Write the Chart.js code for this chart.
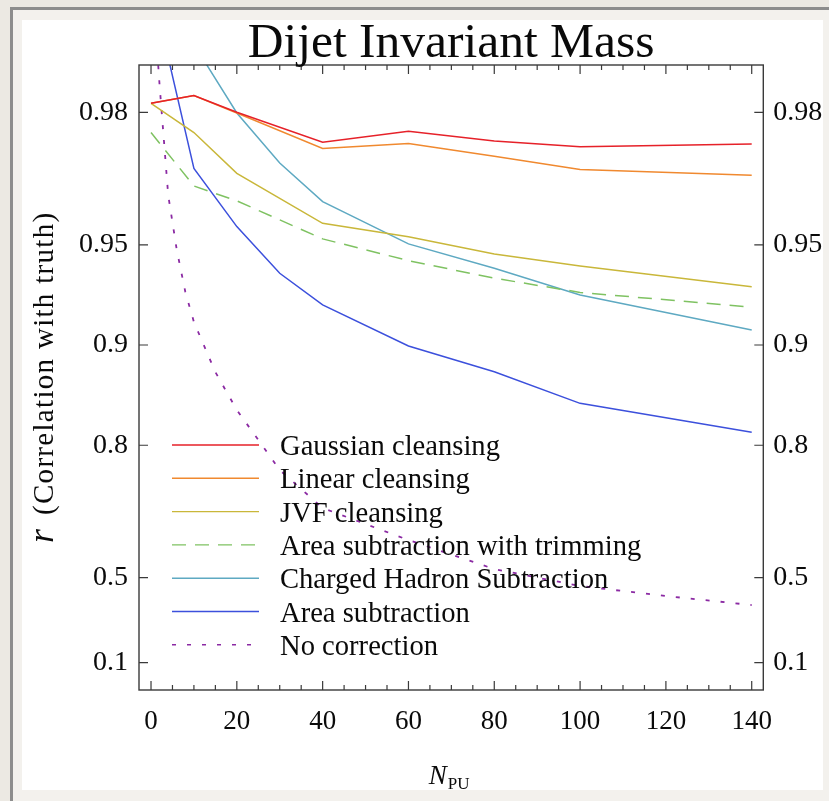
<!DOCTYPE html>
<html><head><meta charset="utf-8">
<script src="https://cdn.jsdelivr.net/npm/chart.js@4.4.0/dist/chart.umd.min.js"></script>
<style>
html,body{margin:0;padding:0;background:#ece9e3;width:829px;height:801px;overflow:hidden;position:relative}
#frame{position:absolute;left:10px;top:7px;width:900px;height:900px;border:3px solid #8d8d8d;background:#f3f1ed;box-sizing:border-box}
#card{position:absolute;left:22px;top:20px;width:801px;height:770px;background:#fff}
canvas{position:absolute;left:0;top:0}
</style></head><body>
<div id="frame"></div><div id="card"></div>
<canvas id="c" width="829" height="801"></canvas>
<script>
// ---- text ----
const chartTitle = 'Dijet Invariant Mass';
const xLabelMain = 'N', xLabelSub = 'PU';
const yLabelVar = 'r', yLabelText = '(Correlation with truth)';
// ---- ticks ----
const xTicks = [0, 20, 40, 60, 80, 100, 120, 140];
const xMinorStep = 5;
const yTickValues = [0.98, 0.95, 0.9, 0.8, 0.5, 0.1];
const yTickLabels = ['0.98', '0.95', '0.9', '0.8', '0.5', '0.1'];
// ---- data (r = correlation with truth) ----
const npuMain = [0, 10, 20, 40, 60, 80, 100, 140];
const gaussian = [0.9812, 0.9822, 0.9800, 0.9754, 0.9772, 0.9756, 0.9746, 0.9751];
const linear   = [0.9812, 0.9822, 0.9799, 0.9743, 0.9752, 0.9729, 0.9703, 0.9691];
const jvf      = [0.9812, 0.9770, 0.9695, 0.9569, 0.9527, 0.9467, 0.9421, 0.9332];
const areaTrim = [0.9770, 0.9667, 0.9631, 0.9520, 0.9442, 0.9370, 0.9305, 0.9230];
const npuFine = [0, 10, 20, 30, 40, 60, 80, 100, 140];
const chs  = [0.9950, 0.9875, 0.9799, 0.9716, 0.9629, 0.9503, 0.9412, 0.9292, 0.9099];
const area = [0.9918, 0.9705, 0.9559, 0.9391, 0.9242, 0.8993, 0.8797, 0.8503, 0.8171];
const npuNoCorr = [0, 2, 4, 6, 8, 10, 15, 20, 30, 40, 60, 80, 100, 120, 140];
const noCorr = [0.9930, 0.9834, 0.9646, 0.9482, 0.9307, 0.9147, 0.8794, 0.8433, 0.7626, 0.6912, 0.6147, 0.5291, 0.4704, 0.4325, 0.3960];
const seriesNames = ['Gaussian cleansing', 'Linear cleansing', 'JVF cleansing', 'Area subtraction with trimming', 'Charged Hadron Subtraction', 'Area subtraction', 'No correction'];

// y axis shows r on a log(1-r) scale
const pts = (xs, rs) => xs.map((x, i) => ({ x: x, y: 1 - rs[i] }));

const SERIF = "'Liberation Serif','Times New Roman',serif";
Chart.defaults.font.family = SERIF;

const styles = [
  { c: '#e62129', dash: [] },
  { c: '#f0892f', dash: [] },
  { c: '#c9b73a', dash: [] },
  { c: '#7fc262', dash: [14, 9] },
  { c: '#5ea9c2', dash: [] },
  { c: '#3c50dc', dash: [] },
  { c: '#8b2aa3', dash: [4, 11] }
];
const seriesData = [
  pts(npuMain, gaussian), pts(npuMain, linear), pts(npuMain, jvf), pts(npuMain, areaTrim),
  pts(npuFine, chs), pts(npuFine, area), pts(npuNoCorr, noCorr)
];
const datasets = seriesData.map((d, i) => ({
  label: seriesNames[i], data: d, borderColor: styles[i].c, backgroundColor: styles[i].c,
  borderDash: styles[i].dash, borderWidth: i === 6 ? 1.8 : 1.5, pointRadius: 0, tension: 0, fill: false
}));

const AXIS = '#3a3a3a';
const yScaleBase = (pos, w) => ({
  type: 'logarithmic', position: pos, reverse: true, min: 0.01442, max: 1.087,
  grid: { display: false, drawTicks: false, tickLength: 0 },
  border: { display: false },
  afterBuildTicks: s => { s.ticks = yTickValues.map(v => ({ value: 1 - v })); },
  afterFit: s => { s.width = w; },
  ticks: { callback: (v, i) => yTickLabels[i], font: { size: 28, family: SERIF }, color: '#0a0a0a', padding: pos === 'left' ? 11 : 10, autoSkip: false }
});

const decor = {
  id: 'decor',
  afterDraw(chart) {
    const ctx = chart.ctx, a = chart.chartArea;
    const xs = chart.scales.x, ys = chart.scales.y;
    ctx.save();
    // frame
    ctx.strokeStyle = AXIS; ctx.lineWidth = 1.4; ctx.setLineDash([]);
    ctx.strokeRect(a.left, a.top, a.right - a.left, a.bottom - a.top);
    // x ticks (bottom and top)
    ctx.lineWidth = 1.2;
    for (let v = xTicks[0]; v <= xTicks[xTicks.length - 1]; v += xMinorStep) {
      const px = xs.getPixelForValue(v);
      const len = xTicks.includes(v) ? 9 : 5;
      ctx.beginPath();
      ctx.moveTo(px, a.bottom); ctx.lineTo(px, a.bottom - len);
      ctx.moveTo(px, a.top); ctx.lineTo(px, a.top + len);
      ctx.stroke();
    }
    // y ticks (left and right)
    yTickValues.forEach(v => {
      const py = ys.getPixelForValue(1 - v);
      ctx.beginPath();
      ctx.moveTo(a.left, py); ctx.lineTo(a.left + 9, py);
      ctx.moveTo(a.right, py); ctx.lineTo(a.right - 9, py);
      ctx.stroke();
    });
    // title
    ctx.fillStyle = '#0a0a0a';
    ctx.font = '49.5px ' + SERIF;
    ctx.textAlign = 'center'; ctx.textBaseline = 'alphabetic';
    ctx.fillText(chartTitle, (a.left + a.right) / 2, a.top - 8);
    // x label
    ctx.font = 'italic 27px ' + SERIF;
    const wN = ctx.measureText(xLabelMain).width;
    ctx.font = '17px ' + SERIF;
    const wP = ctx.measureText(xLabelSub).width;
    const cx = (a.left + a.right) / 2 - 2;
    const x0 = cx - (wN + wP + 1) / 2;
    ctx.textAlign = 'left';
    ctx.font = 'italic 27px ' + SERIF;
    ctx.fillText(xLabelMain, x0, 784);
    ctx.font = '17px ' + SERIF;
    ctx.fillText(xLabelSub, x0 + wN + 1, 789);
    // y label (rotated)
    ctx.save();
    ctx.translate(53, 543);
    ctx.rotate(-Math.PI / 2);
    ctx.font = 'italic 36px ' + SERIF;
    ctx.fillText(yLabelVar, 0, 0);
    const wr = ctx.measureText(yLabelVar).width;
    ctx.font = '29px ' + SERIF;
    try { ctx.letterSpacing = '1.3px'; } catch (e) {}
    ctx.fillText(yLabelText, wr + 14, 0);
    ctx.restore();
    // legend
    const lx0 = a.left + 33, lx1 = a.left + 120, tx = a.left + 141;
    chart.data.datasets.forEach((ds, i) => {
      const y = 445 + i * 33.3;
      ctx.strokeStyle = ds.borderColor; ctx.lineWidth = 1.4;
      ctx.setLineDash(ds.borderDash || []);
      ctx.beginPath(); ctx.moveTo(lx0, y); ctx.lineTo(lx1, y); ctx.stroke();
      ctx.setLineDash([]);
      ctx.fillStyle = '#0a0a0a';
      ctx.font = '28.6px ' + SERIF;
      ctx.textAlign = 'left'; ctx.textBaseline = 'alphabetic';
      ctx.fillText(ds.label, tx, y + 10);
    });
    ctx.restore();
  }
};

new Chart(document.getElementById('c'), {
  type: 'line',
  data: { datasets: datasets },
  options: {
    responsive: false, animation: false, devicePixelRatio: 1,
    layout: { padding: { top: 65, left: 0, right: 0, bottom: 0 } },
    plugins: { legend: { display: false }, title: { display: false }, tooltip: { enabled: false } },
    scales: {
      x: {
        type: 'linear', position: 'bottom', min: -2.8, max: 142.7,
        grid: { display: false, drawTicks: false, tickLength: 0 },
        border: { display: false },
        afterBuildTicks: s => { s.ticks = xTicks.map(v => ({ value: v })); },
        afterFit: s => { s.height = 111; },
        ticks: { font: { size: 27, family: SERIF }, color: '#0a0a0a', padding: 16, maxRotation: 0, autoSkip: false }
      },
      y: yScaleBase('left', 139),
      y2: yScaleBase('right', 65.7)
    }
  },
  plugins: [decor]
});
</script>
</body></html>
